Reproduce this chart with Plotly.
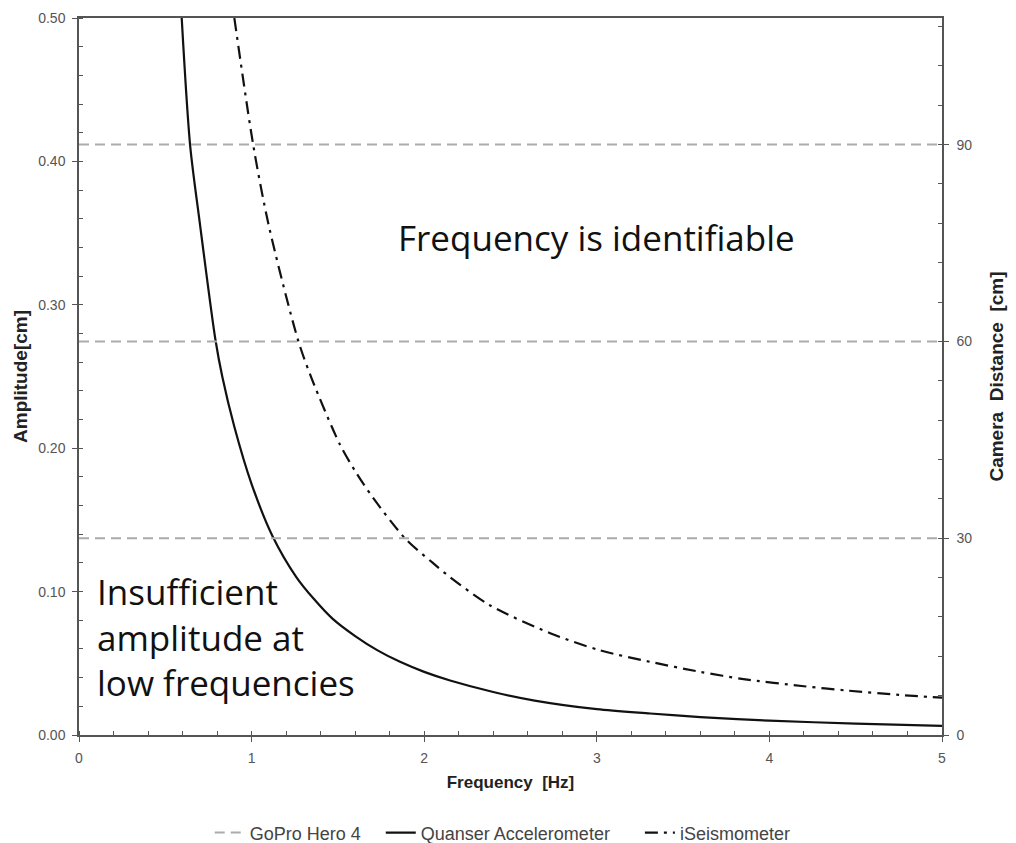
import plotly.graph_objects as go

# Detection thresholds: amplitude vs. frequency for each sensor
freq_quanser = [0.595, 0.644, 0.70, 0.79, 0.83, 0.90, 1.00, 1.12, 1.26, 1.36, 1.47, 1.60,
                1.73, 1.86, 2.00, 2.15, 2.40, 2.64, 3.00, 3.31, 3.60, 4.00, 4.50, 5.00]
amp_quanser = [0.500, 0.411, 0.357, 0.276, 0.250, 0.215, 0.175, 0.139, 0.110, 0.095, 0.081, 0.069,
               0.059, 0.051, 0.044, 0.038, 0.030, 0.024, 0.0180, 0.0150, 0.0125, 0.0100, 0.0080, 0.0063]

freq_iseis = [0.90, 1.01, 1.10, 1.27, 1.35, 1.51, 1.60, 1.70, 1.89, 2.05, 2.14, 2.38, 2.73,
              3.02, 3.31, 3.60, 3.85, 4.20, 4.45, 4.75, 5.00]
amp_iseis = [0.500, 0.411, 0.355, 0.275, 0.248, 0.203, 0.184, 0.166, 0.137, 0.120, 0.111, 0.0905, 0.071,
             0.059, 0.051, 0.044, 0.039, 0.034, 0.031, 0.028, 0.026]

# GoPro camera distances (right axis)
gopro_distances = [30, 60, 90]
freq_range = [0, 5]

AMP_MAX = 0.5
DIST_MAX = 109.3

gopro_x, gopro_y = [], []
for d in gopro_distances:
    gopro_x += [freq_range[0], freq_range[1], None]
    gopro_y += [d, d, None]

fig = go.Figure()

fig.add_trace(go.Scatter(
    x=gopro_x, y=gopro_y, yaxis="y2", mode="lines",
    name="GoPro Hero 4" + "&nbsp;" * 3,
    line=dict(color="#ababab", width=2, dash="10px,6px"),
))
fig.add_trace(go.Scatter(
    x=freq_quanser, y=amp_quanser, mode="lines",
    name="Quanser Accelerometer" + "&nbsp;" * 5,
    line=dict(color="#111111", width=2.2, shape="spline", smoothing=0.8),
))
fig.add_trace(go.Scatter(
    x=freq_iseis, y=amp_iseis, mode="lines", name="iSeismometer",
    line=dict(color="#111111", width=2.2, dash="13px,6px,3px,6px", shape="spline", smoothing=0.8),
))

tick_font = dict(family="Liberation Sans, Arial, sans-serif", size=14, color="#555555")
title_font = dict(family="Liberation Sans, Arial, sans-serif", size=17, color="#222222")
vtitle_font = dict(family="Liberation Sans, Arial, sans-serif", size=19, color="#222222")
axis_color = "#555555"

fig.update_layout(
    width=1016, height=843,
    margin=dict(l=79, r=74, t=18, b=108, autoexpand=False),
    paper_bgcolor="white", plot_bgcolor="white",
    showlegend=True,
    legend=dict(
        orientation="h", x=0.491, xanchor="center",
        yref="container", y=0.012, yanchor="middle",
        font=dict(family="Liberation Sans, Arial, sans-serif", size=18, color="#444444"),
        itemwidth=30, tracegroupgap=0,
    ),
    xaxis=dict(
        range=freq_range, tickvals=[0, 1, 2, 3, 4, 5], automargin=False,
        showgrid=False, zeroline=False, showline=True, linecolor=axis_color, linewidth=1.5,
        mirror=True, ticks="outside", ticklen=5, tickcolor=axis_color, tickfont=tick_font,
        ticklabelstandoff=4,
        minor=dict(dtick=0.2, ticks="inside", ticklen=4, tickcolor=axis_color),
        title=dict(text="<b>Frequency  [Hz]</b>", font=title_font, standoff=12),
    ),
    yaxis=dict(
        range=[0, AMP_MAX], tickvals=[0, 0.1, 0.2, 0.3, 0.4, 0.5], automargin=False,
        ticktext=["0.00", "0.10", "0.20", "0.30", "0.40", "0.50"],
        showgrid=False, zeroline=False, showline=True, linecolor=axis_color, linewidth=1.5,
        ticks="outside", ticklen=5, tickcolor=axis_color, tickfont=tick_font,
        ticklabelstandoff=4,
        minor=dict(dtick=0.02, ticks="inside", ticklen=4, tickcolor=axis_color),
        title=dict(text="<b>Amplitude[cm]</b>", font=vtitle_font, standoff=6),
    ),
    yaxis2=dict(
        range=[0, DIST_MAX], tickvals=[0, 30, 60, 90], overlaying="y", side="right",
        automargin=False,
        showgrid=False, zeroline=False, showline=True, linecolor=axis_color, linewidth=1.5,
        ticks="outside", ticklen=5, tickcolor=axis_color, tickfont=tick_font,
        ticklabelstandoff=5,
        minor=dict(dtick=6, ticks="inside", ticklen=4, tickcolor=axis_color),
        title=dict(text="<b>Camera  Distance  [cm]</b>", font=vtitle_font, standoff=18),
    ),
)

big_font = dict(family="Open Sans, Lato, sans-serif", size=35, color="#111111")
fig.add_annotation(
    x=3.0, y=0.347, xref="x", yref="y", text="Frequency is identifiable",
    showarrow=False, font=big_font, xanchor="center", yanchor="middle",
)
fig.add_annotation(
    x=0.09, y=0.068, xref="x", yref="y",
    text="Insufficient<br>amplitude at<br>low frequencies",
    showarrow=False, font=big_font, align="left", xanchor="left", yanchor="middle",
)

fig.write_html("out.html")
